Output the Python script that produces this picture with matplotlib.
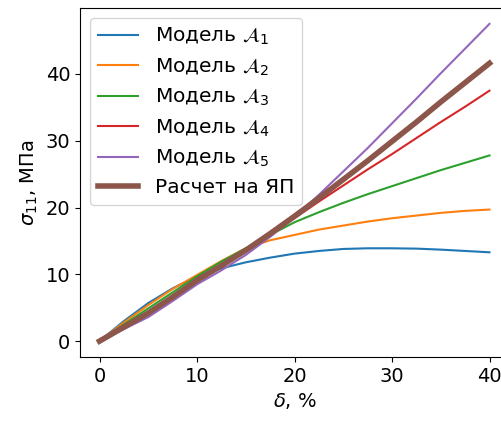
import numpy as np
import matplotlib
matplotlib.use('Agg')
import matplotlib.pyplot as plt

# деформация, %
delta = [0, 2.5, 5, 7.5, 10, 12.5, 15, 17.5, 20, 22.5, 25, 27.5, 30, 32.5, 35, 37.5, 40]

# напряжения для моделей, МПа
model_a1 = [0, 3.0, 5.7, 7.9, 9.7, 10.9, 11.8, 12.5, 13.1, 13.5, 13.8, 13.9, 13.9, 13.85, 13.7, 13.5, 13.3]
model_a2 = [0, 2.8, 5.4, 7.8, 9.9, 12.0, 13.9, 15.1, 15.9, 16.7, 17.3, 17.9, 18.4, 18.8, 19.2, 19.5, 19.7]
model_a3 = [0, 2.5, 4.9, 7.3, 9.7, 11.9, 13.9, 15.9, 17.8, 19.3, 20.7, 22.0, 23.2, 24.4, 25.6, 26.7, 27.8]
model_a4 = [0, 2.2, 4.4, 6.8, 9.3, 11.4, 13.4, 15.9, 18.4, 20.9, 23.3, 25.7, 28.0, 30.4, 32.8, 35.1, 37.5]
model_a5 = [0, 1.8, 3.6, 6.0, 8.5, 10.6, 12.9, 15.6, 18.6, 21.9, 25.4, 28.9, 32.6, 36.3, 40.1, 43.8, 47.5]
yap = [0, 2.1, 4.2, 6.6, 9.1, 11.3, 13.6, 16.1, 18.7, 21.4, 24.2, 27.0, 29.9, 32.8, 35.8, 38.7, 41.6]

models = [model_a1, model_a2, model_a3, model_a4, model_a5]
labels = [r'Модель $\mathcal{A}_%d$' % (i + 1) for i in range(5)]

fig = plt.figure(figsize=(5.01, 4.23), dpi=100)
# картинка обрезана справа, поэтому оси выходят за край
ax = fig.add_axes([80 / 501, 66 / 423, 429 / 501, 349 / 423])

for vals, lab in zip(models, labels):
    ax.plot(delta, vals, lw=1.5, label=lab)
ax.plot(delta, yap, lw=4, color='tab:brown', label='Расчет на ЯП')

ax.set_xticks([0, 10, 20, 30, 40])
ax.set_yticks([0, 10, 20, 30, 40])
ax.tick_params(labelsize=14)
ax.set_xlabel(r'$\delta$, %', fontsize=14)
ax.set_ylabel(r'$\sigma_{11}$, МПа', fontsize=14)
ax.legend(loc='upper left', fontsize=14.5, labelspacing=0.45)

fig.savefig('out.png', dpi=100)
